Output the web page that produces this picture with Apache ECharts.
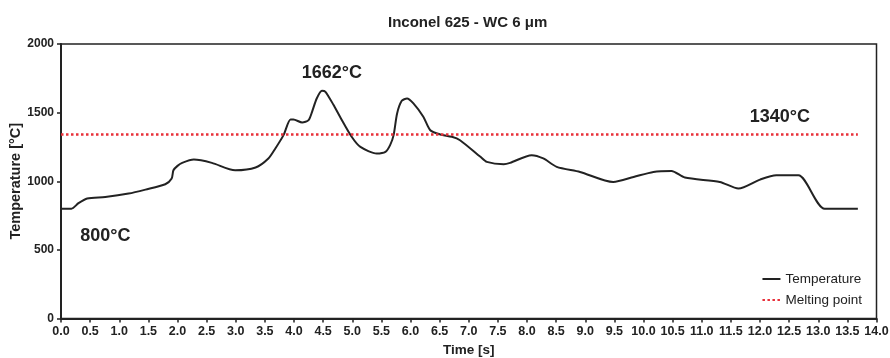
<!DOCTYPE html>
<html>
<head>
<meta charset="utf-8">
<script src="https://cdn.jsdelivr.net/npm/echarts@6/dist/echarts.min.js"></script>
<style>html,body{margin:0;padding:0;background:#fff}#c{width:890px;height:358px}</style>
</head>
<body>
<div id="c"></div>
<script>
var titleText = 'Inconel 625 - WC 6 \u03bcm';
var xName = 'Time [s]';
var yName = 'Temperature [\u00b0C]';
var seriesNames = ['Temperature', 'Melting point'];
var timeS = [0, 0.18, 0.3, 0.45, 0.76, 1.16, 1.45, 1.79, 1.90, 1.93, 2.0, 2.08, 2.28, 2.59, 2.99, 3.34, 3.56, 3.68, 3.82, 3.94, 3.99, 4.14, 4.25, 4.31, 4.39, 4.48, 4.54, 4.68, 4.79, 4.99, 5.14, 5.42, 5.57, 5.65, 5.71, 5.77, 5.85, 5.94, 6.05, 6.22, 6.34, 6.51, 6.71, 6.85, 7.20, 7.31, 7.60, 7.71, 8.08, 8.28, 8.51, 8.91, 9.48, 9.83, 10.17, 10.48, 10.71, 11.31, 11.63, 12.0, 12.28, 12.66, 13.11, 13.68];
var tempC = [800, 800, 840, 874, 885, 910, 939, 978, 1020, 1080, 1112, 1134, 1158, 1134, 1080, 1100, 1166, 1239, 1336, 1450, 1450, 1428, 1445, 1506, 1603, 1659, 1652, 1555, 1470, 1324, 1250, 1202, 1214, 1263, 1336, 1494, 1586, 1603, 1567, 1470, 1372, 1341, 1324, 1299, 1178, 1141, 1124, 1134, 1190, 1166, 1105, 1068, 995, 1031, 1068, 1075, 1027, 995, 947, 1012, 1044, 1044, 800, 800];
var meltTime = [0, 13.68];
var meltTemp = [1340, 1340];
var annotations = [
  {text: '1662\u00b0C', t: 4.65, v: 1790},
  {text: '800\u00b0C', t: 0.76, v: 600},
  {text: '1340\u00b0C', t: 12.34, v: 1465}
];

var tempData = timeS.map(function (t, i) { return [t, tempC[i]]; });
var meltData = meltTime.map(function (t, i) { return [t, meltTemp[i]]; });
var labelFont = {fontFamily: 'Liberation Sans', fontWeight: 'bold', color: '#222'};

var chart = echarts.init(document.getElementById('c'));
chart.setOption({
  animation: false,
  title: {text: titleText, left: 383, top: 10, textStyle: {fontFamily: 'Liberation Sans', fontWeight: 'bold', fontSize: 15, color: '#222'}},
  grid: {left: 61, right: 13.5, top: 44, bottom: 39.5, outerBoundsMode: 'none', containLabel: false, show: true, borderColor: '#222', borderWidth: 1.5},
  legend: {
    orient: 'vertical', right: 23, top: 267, itemWidth: 18, itemHeight: 12, itemGap: 7,
    itemStyle: {opacity: 0},
    textStyle: {fontFamily: 'Liberation Sans', fontSize: 13.5, color: '#222'},
    data: seriesNames
  },
  xAxis: {
    type: 'value', min: 0, max: 14, interval: 0.5,
    name: xName, nameLocation: 'middle', nameGap: 25, nameMoveOverlap: false,
    nameTextStyle: Object.assign({fontSize: 13.5}, labelFont),
    axisLine: {show: true, lineStyle: {color: '#222', width: 2}},
    axisTick: {show: true, length: 4, lineStyle: {color: '#222', width: 1.5}},
    axisLabel: Object.assign({margin: 7, fontSize: 12.5, formatter: function (v) { return v.toFixed(1); }}, labelFont),
    splitLine: {show: false}
  },
  yAxis: {
    type: 'value', min: 0, max: 2000, interval: 500,
    name: yName, nameLocation: 'middle', nameGap: 38, nameMoveOverlap: false,
    nameTextStyle: Object.assign({fontSize: 14.5}, labelFont),
    axisLine: {show: true, lineStyle: {color: '#222', width: 2}},
    axisTick: {show: true, length: 4, lineStyle: {color: '#222', width: 1.5}},
    axisLabel: Object.assign({margin: 7, fontSize: 12, formatter: function (v) { return String(v); }}, labelFont),
    splitLine: {show: false}
  },
  series: [
    {
      name: seriesNames[0], type: 'line', data: tempData, symbol: 'none', smooth: 0.25,
      lineStyle: {color: '#222', width: 2}, itemStyle: {color: '#222'},
      markPoint: {
        symbol: 'circle', symbolSize: 0,
        label: {show: true, position: 'inside', fontFamily: 'Liberation Sans', fontWeight: 'bold', fontSize: 18, color: '#222',
          formatter: function (p) { return p.name; }},
        data: annotations.map(function (a) { return {name: a.text, coord: [a.t, a.v]}; })
      }
    },
    {
      name: seriesNames[1], type: 'line', data: meltData, symbol: 'none',
      lineStyle: {color: '#e8303a', width: 2.5, type: [2.5, 2.5]}, itemStyle: {color: '#e8303a'}
    }
  ]
});
</script>
</body>
</html>
